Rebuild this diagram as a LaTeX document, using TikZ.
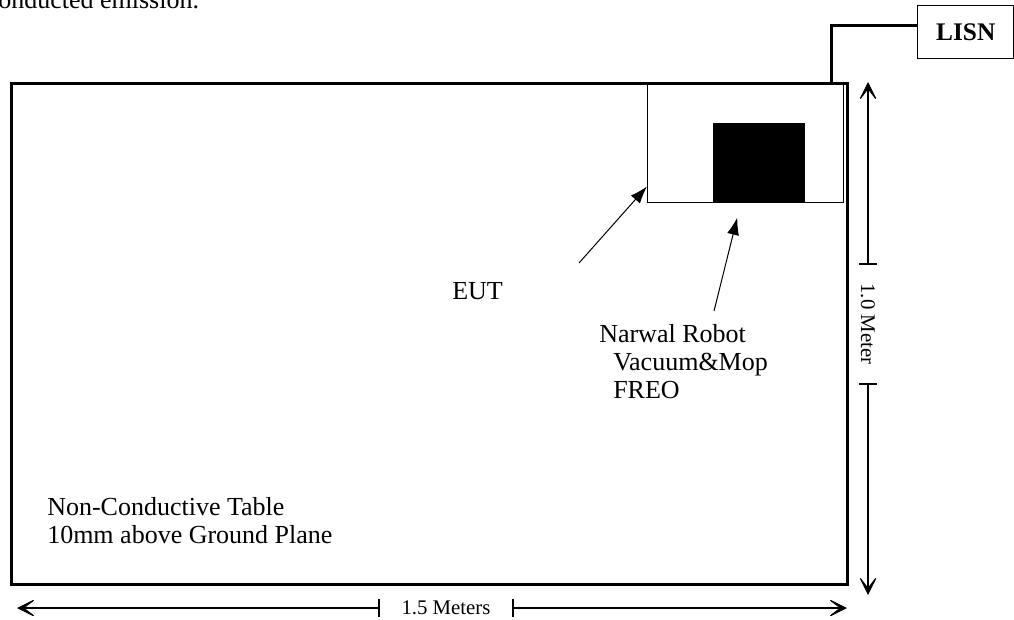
\documentclass[tikz,border=0pt]{standalone}
\usepackage{fontspec}
\setmainfont{Liberation Serif}
\usetikzlibrary{arrows.meta,calc}

\begin{document}
\begin{tikzpicture}[
    x=0.75pt, y=-0.75pt, % pixel grid, y pointing down
    % Styles for the boxes
    tablebox/.style={rectangle, draw, line width=2.25pt, anchor=north west, inner sep=0pt, minimum width=627pt, minimum height=375.75pt},
    eutbox/.style={rectangle, draw, line width=1.1pt, anchor=north west, inner sep=0pt, minimum width=147pt, minimum height=90pt},
    robotbox/.style={rectangle, fill=black, anchor=north west, inner sep=0pt, minimum width=69pt, minimum height=59.25pt},
    lisnbox/.style={rectangle, draw, line width=1.1pt, anchor=north west, inner sep=0pt, minimum width=72pt, minimum height=39.75pt, font=\fontsize{19}{22}\selectfont\bfseries},
    % Styles for the texts (base = last line)
    labeltext/.style={anchor=base west, inner sep=0pt, align=left, font=\fontsize{19.5}{21}\selectfont},
    dimtext/.style={inner sep=0pt, font=\fontsize{15.6}{18}\selectfont},
    % Styles for the lines
    cable/.style={line width=2.25pt},
    pointer/.style={-{Latex[length=13pt, width=9pt]}, line width=0.75pt},
    dimline/.style={line width=0.8pt},
    dimhead/.tip={Stealth[length=16pt, width=16pt, inset=10.5pt]},
    dimbar/.tip={Bar[width=14pt, line width=1.1pt]}
]
\useasboundingbox (0,0) rectangle (1014,619);

% === TEXT ABOVE (cut off) ===
\node[labeltext] (caption) at (-2,8) {onducted emission.};

% === TABLE ===
\node[tablebox] (table) at (10,82) {};
\node[labeltext] (tablelabel) at (47,543) {Non-Conductive Table\\10mm above Ground Plane};

% === EUT ===
\node[eutbox] (eut) at (647,82) {};
\node[robotbox] (robot) at (713,123) {};
\node[labeltext] (eutlabel) at (452,299) {EUT};
\node[labeltext] (robotlabel) at (599,398) {Narwal Robot\\\hspace{10.5pt}Vacuum\&Mop\\\hspace{10.5pt}FREO};

\coordinate (euttail) at (579,263);
\coordinate (robottail) at (714,311);
\draw[pointer] (euttail) -- ($(eut.south west)+(0,-17)$);
\draw[pointer] (robottail) -- ($(robot.south)+(-22,15)$);

% === LISN ===
\node[lisnbox] (lisn) at (917,5) {LISN};
\coordinate (plug) at (831,82);
\draw[cable] (plug) |- ([yshift=-15pt]lisn.north west);

% === DIMENSIONS ===
\node[dimtext, minimum width=99pt] (widthlabel) at (446,608) {1.5 Meters};
\coordinate (wleft) at (17,608);
\coordinate (wright) at (847,608);
\draw[dimline, {dimhead}-{dimbar}] (wleft) -- (widthlabel.west);
\draw[dimline, {dimbar}-{dimhead}] (widthlabel.east) -- (wright);

\node[dimtext, rotate=-90, minimum width=88.5pt] (heightlabel) at (868,324) {1.0 Meter};
\coordinate (htop) at (868,82);
\coordinate (hbottom) at (868,595);
\draw[dimline, {dimhead}-{dimbar}] (htop) -- (heightlabel.west);
\draw[dimline, {dimbar}-{dimhead}] (heightlabel.east) -- (hbottom);

\end{tikzpicture}
\end{document}
